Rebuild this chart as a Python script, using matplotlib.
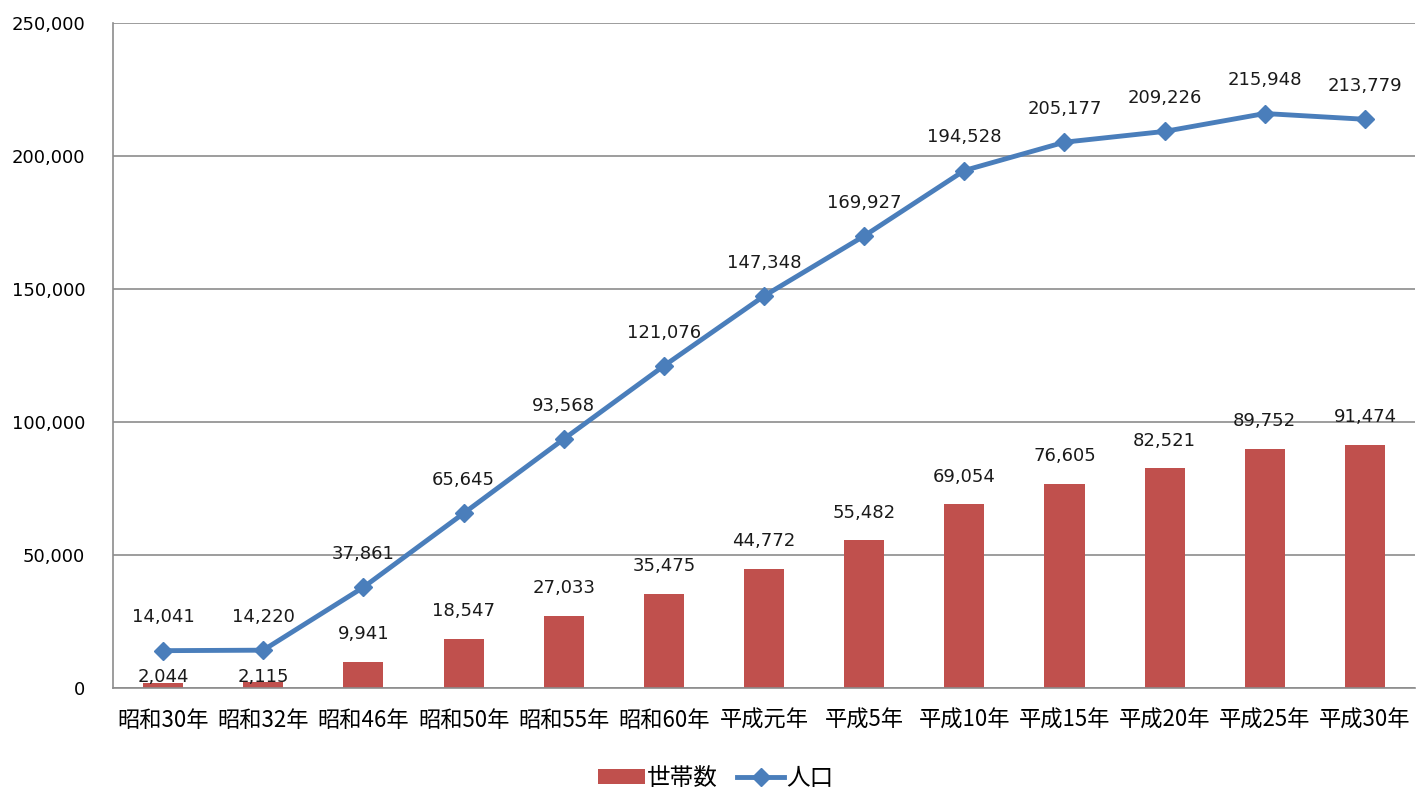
import numpy as np
import matplotlib.pyplot as plt

plt.rcParams['font.family'] = ['Noto Sans CJK JP', 'DejaVu Sans']

years = ['昭和30年', '昭和32年', '昭和46年', '昭和50年', '昭和55年', '昭和60年', '平成元年',
         '平成5年', '平成10年', '平成15年', '平成20年', '平成25年', '平成30年']
households = [2044, 2115, 9941, 18547, 27033, 35475, 44772, 55482, 69054, 76605, 82521, 89752, 91474]
population = [14041, 14220, 37861, 65645, 93568, 121076, 147348, 169927, 194528, 205177, 209226, 215948, 213779]

bar_color = '#C0504D'
line_color = '#4A7EBB'
num_font = 'DejaVu Sans'

fig = plt.figure(figsize=(14.23, 7.91), dpi=100)
ax = fig.add_axes([0.0794, 0.1302, 0.915, 0.8408])

x = np.arange(len(years))
bars = ax.bar(x, households, width=0.4, color=bar_color, label='世帯数', zorder=2)
line, = ax.plot(x, population, color=line_color, lw=3.5, marker='D', markersize=9,
                label='人口', zorder=3)

# small bars: labels sit right on top of the bar (as in the original)
for xi, v in zip(x, households):
    dy = 4 if v < 5000 else 20
    ax.annotate(f'{v:,}', (xi, v), xytext=(0, dy), textcoords='offset points',
                ha='center', va='center', fontsize=13, family=num_font,
                color='#1a1a1a', zorder=4)
for xi, v in zip(x, population):
    ax.annotate(f'{v:,}', (xi, v), xytext=(0, 24), textcoords='offset points',
                ha='center', va='center', fontsize=13, family=num_font,
                color='#1a1a1a', zorder=4)

ax.set_xlim(-0.5, len(years) - 0.5)
ax.set_ylim(0, 250000)
ax.set_yticks(np.arange(0, 250001, 50000))
ax.set_yticklabels([f'{t:,}' for t in range(0, 250001, 50000)], fontsize=13, family=num_font)
ax.set_xticks(x)
ax.set_xticklabels(years, fontsize=16)
ax.tick_params(axis='both', length=0)
ax.tick_params(axis='x', pad=15)
ax.tick_params(axis='y', pad=20)
ax.grid(axis='y', color='#8c8c8c', lw=1.2, zorder=0)
for s in ['top', 'right']:
    ax.spines[s].set_visible(False)
ax.spines['left'].set_color('#8c8c8c')
ax.spines['bottom'].set_color('#8c8c8c')
ax.spines['left'].set_linewidth(1.2)
ax.spines['bottom'].set_linewidth(1.2)

ax.legend([bars, line], ['世帯数', '人口'], loc='center', bbox_to_anchor=(0.463, -0.1365),
          ncol=2, frameon=False, fontsize=17, handlelength=2.0, handleheight=0.6,
          columnspacing=0.8, handletextpad=0.1)

fig.savefig('out.png', dpi=100)
